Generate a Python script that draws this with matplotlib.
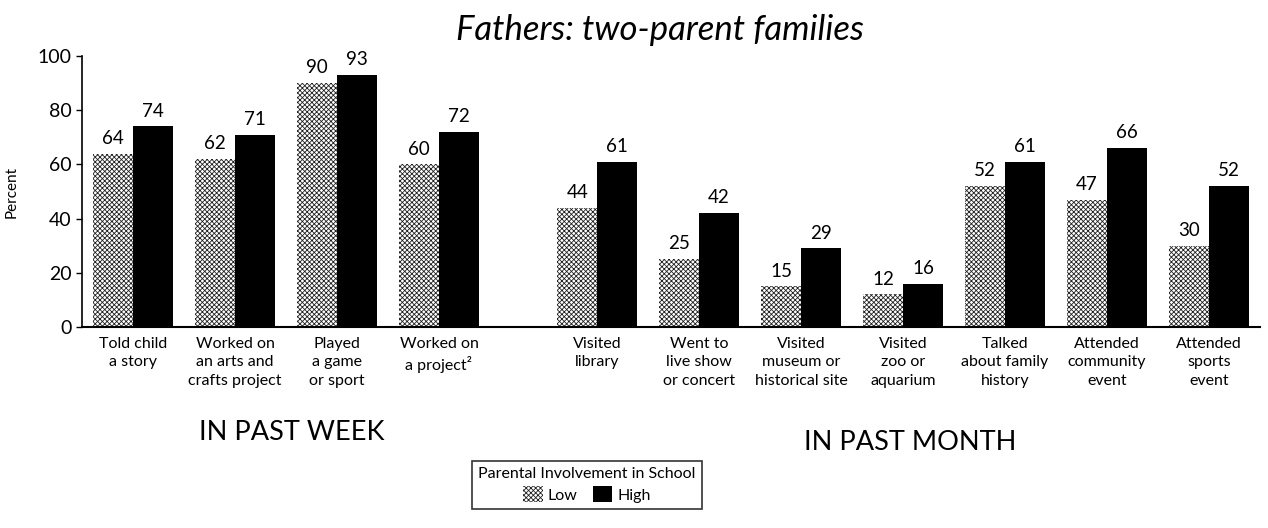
import numpy as np
import matplotlib.pyplot as plt
import matplotlib as mpl

plt.rcParams['font.family'] = ['Lato', 'DejaVu Sans']
mpl.rcParams['hatch.linewidth'] = 0.6

week_labels = ["Told child\na story", "Worked on\nan arts and\ncrafts project",
               "Played\na game\nor sport", "Worked on\na project\u00b2"]
week_low = [64, 62, 90, 60]
week_high = [74, 71, 93, 72]

month_labels = ["Visited\nlibrary", "Went to\nlive show\nor concert",
                "Visited\nmuseum or\nhistorical site", "Visited\nzoo or\naquarium",
                "Talked\nabout family\nhistory", "Attended\ncommunity\nevent",
                "Attended\nsports\nevent"]
month_low = [44, 25, 15, 12, 52, 47, 30]
month_high = [61, 42, 29, 16, 61, 66, 52]

fig = plt.figure(figsize=(12.68, 5.28), dpi=100)
ax = fig.add_axes([82 / 1268, 1 - 327 / 528, (1260 - 82) / 1268, (327 - 56) / 528])

# group positions, one unit per group, with a gap between the two periods
xw = np.arange(len(week_low)) * 1.0
xm = 4.55 + np.arange(len(month_low)) * 1.0
w = 0.39

def draw(x, low, high):
    b1 = ax.bar(x - w / 2, low, w, facecolor='white', edgecolor='#222222', hatch='xxxxxxx', lw=0)
    b2 = ax.bar(x + w / 2, high, w, color='black')
    for xi, v in zip(x - w / 2, low):
        ax.text(xi, v + 2.5, str(v), ha='center', va='bottom', fontsize=13.5)
    for xi, v in zip(x + w / 2, high):
        ax.text(xi, v + 2.5, str(v), ha='center', va='bottom', fontsize=13.5)
    return b1, b2

b1, b2 = draw(xw, week_low, week_high)
draw(xm, month_low, month_high)

ax.set_xlim(-0.5, 11.05)
ax.set_ylim(0, 100)
ax.set_yticks(np.arange(0, 101, 20))
ax.tick_params(axis='y', labelsize=14, length=4, width=1)
ax.set_xticks(list(xw) + list(xm))
ax.set_xticklabels(week_labels + month_labels, fontsize=11.5, linespacing=1.4)
ax.tick_params(axis='x', length=0, pad=7)
for s in ['top', 'right']:
    ax.spines[s].set_visible(False)
ax.spines['left'].set_linewidth(1.2)
ax.spines['bottom'].set_linewidth(1.5)
ax.set_ylabel("Percent", fontsize=11, labelpad=14)

fig.text(660 / 1268, 1 - 30 / 528, "Fathers: two-parent families", ha='center', va='center',
         fontsize=25, style='italic')
fig.text(292 / 1268, 1 - 433 / 528, "IN PAST WEEK", ha='center', va='center', fontsize=19.5)
fig.text(910 / 1268, 1 - 443 / 528, "IN PAST MONTH", ha='center', va='center', fontsize=19.5)

leg = fig.legend([b1, b2], ["Low", "High"], loc='center', bbox_to_anchor=(587 / 1268, 1 - 485 / 528),
                 ncol=2, title="Parental Involvement in School", fontsize=11.5, title_fontsize=11.5,
                 frameon=True, fancybox=False, edgecolor='black', handlelength=1.2, handleheight=1.2,
                 columnspacing=1.0, handletextpad=0.3, borderpad=0.4, labelspacing=0.3)
leg.get_frame().set_linewidth(1.2)

fig.savefig("out.png", dpi=100)
